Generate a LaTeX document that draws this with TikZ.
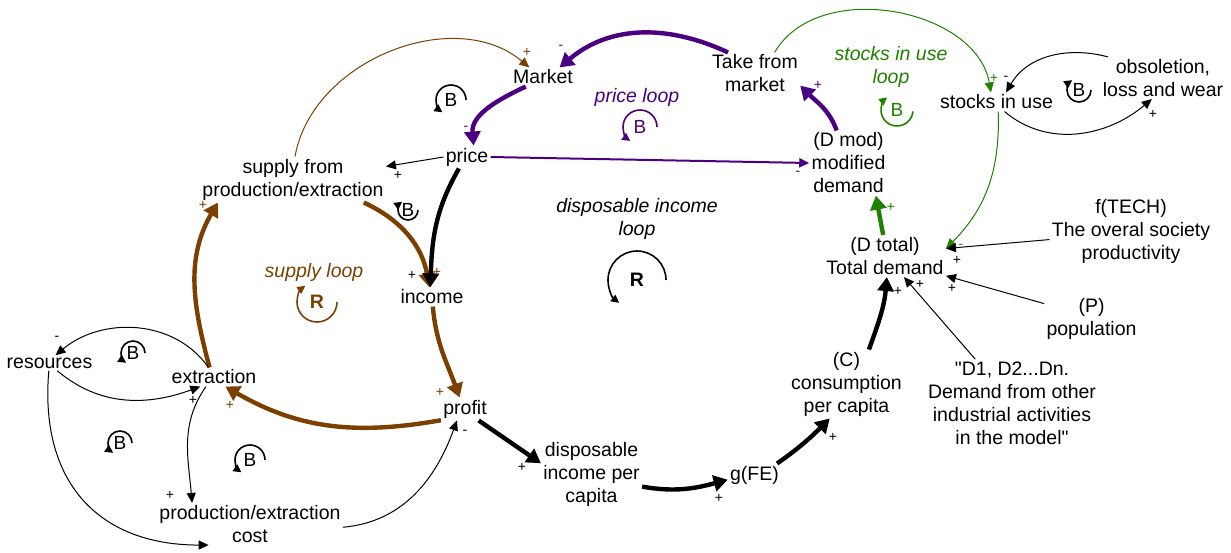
\documentclass[tikz,border=0pt]{standalone}
\usepackage{fontspec}
\setmainfont{Liberation Sans}[Ligatures=TeXOff]
\usetikzlibrary{arrows.meta}
\definecolor{supplybrown}{RGB}{123,63,0}
\definecolor{pricepurple}{RGB}{75,0,130}
\definecolor{stocksgreen}{RGB}{30,130,0}
\tikzset{
  var/.style={align=center, inner sep=1pt, font=\fontsize{9.75}{11.5}\selectfont},
  looptext/.style={align=center, inner sep=1pt, font=\fontsize{9.75}{11.5}\selectfont\itshape},
  looplet/.style={inner sep=0pt, font=\fontsize{9.5}{9.5}\selectfont},
  sign/.style={inner sep=0pt, font=\fontsize{7}{7}\selectfont},
  thin link/.style={-{Triangle[length=5pt,width=4.5pt]}, line width=0.5pt},
  thick link/.style={-{Triangle[length=7pt,width=8pt]}, line width=2.2pt},
  loopmark/.style={-{Triangle[length=4pt,width=4pt]}, line width=0.8pt}
}

\begin{document}
\begin{tikzpicture}[x=0.5pt,y=0.5pt]
      \useasboundingbox (0,0) rectangle (1231,-552);

      % Variables
      \node[var] (market) at (543,-77) {Market};
      \node[var] (take) at (755,-73.5) {Take from\\market};
      \node[var] (price) at (467,-157) {price};
      \node[var] (supply) at (293,-179.5) {supply from\\production/extraction};
      \node[var] (income) at (432,-297) {income};
      \node[var] (profit) at (465,-409) {profit};
      \node[var] (extraction) at (214,-377) {extraction};
      \node[var] (resources) at (49.5,-363) {resources};
      \node[var] (cost) at (250,-524) {production/extraction\\cost};
      \node[var] (disp) at (591.5,-474) {disposable\\income per\\capita};
      \node[var] (gfe) at (754.5,-475) {g(FE)};
      \node[var] (cons) at (846.5,-384) {(C)\\consumption\\per capita};
      \node[var] (dtotal) at (885,-256) {(D total)\\Total demand};
      \node[var] (dmod) at (848.5,-163) {(D mod)\\modified\\demand};
      \node[var] (stocks) at (996.5,-102) {stocks in use};
      \node[var] (obsol) at (1163,-78) {obsoletion,\\loss and wear};
      \node[var] (ftech) at (1131,-231) {f(TECH)\\The overal society\\productivity};
      \node[var] (pop) at (1091.5,-319) {(P)\\population};
      \node[var] (dother) at (1012,-403) {"D1, D2...Dn.\\Demand from other\\industrial activities\\in the model"};

      % Loop names
      \node[looptext, pricepurple] (pricelbl) at (637,-97) {price loop};
      \node[looptext, stocksgreen] (stockslbl) at (891,-66.5) {stocks in use\\loop};
      \node[looptext] (displbl) at (637,-219) {disposable income\\loop};
      \node[looptext, supplybrown] (supplylbl) at (314,-272) {supply loop};

      % Price loop
      \draw[thick link, pricepurple] (take.142) to[out=155,in=40] (market.30);
      \draw[thick link, pricepurple] (market.209) to[out=205,in=95] (price.60);
      \draw[thin link, pricepurple, line width=1pt] (price.east) -- (dmod.west);
      \draw[thick link, pricepurple] (dmod.110) to[out=110,in=-45] (take.-15);

      % Supply loop
      \draw[thick link, supplybrown] (supply.-18) to[out=-25,in=100] (income.105);
      \draw[thick link, supplybrown] (income.-85) to[out=-85,in=110] (profit.115);
      \draw[thick link, supplybrown] (profit.205) to[out=190,in=-30] (extraction.-40);
      \draw[thick link, supplybrown] (extraction.115) to[out=105,in=240] (supply.197);
      \draw[thin link, supplybrown] (supply.85) to[out=80,in=140] (market.145);

      % Price and income
      \draw[thick link] (price.235) to[out=240,in=88] (income.100);
      \draw[thin link] (price.west) -- (supply.8);

      % Resources and cost
      \draw[thin link] (extraction.120) to[out=125,in=40] (resources.52);
      \draw[thin link] (resources.-45) to[out=-40,in=200] (extraction.215);
      \draw[thin link] (extraction.230) to[out=235,in=95] (cost.160);
      \draw[thin link] (cost.-2) to[out=5,in=-110] (profit.235);
      \draw[thin link] (resources.265) to[out=-95,in=180,looseness=1.2] (cost.207);

      % Disposable income loop
      \draw[thick link] (profit.-40) -- (disp.168);
      \draw[thick link] (disp.-14) to[out=-10,in=195] (gfe.190);
      \draw[thick link] (gfe.27) to[out=35,in=225] (cons.244);
      \draw[thick link] (cons.57) to[out=70,in=-95] (dtotal.-85);
      \draw[thick link, stocksgreen] (dtotal.95) -- (dmod.-50);

      % Stocks in use
      \draw[thin link, stocksgreen] (take.47) to[out=60,in=100] (stocks.120);
      \draw[thin link, stocksgreen] (stocks.-80) to[out=-88,in=45] (dtotal.7);
      \draw[thin link] (obsol.159) to[out=165,in=60] (stocks.45);
      \draw[thin link] (stocks.-50) to[out=-40,in=220] (obsol.242);

      % Demand drivers
      \draw[thin link] (ftech.186) -- (dtotal.7);
      \draw[thin link] (pop.162) -- (dtotal.-18);
      \draw[thin link] (dother.130) -- (dtotal.-48);

      % Signs
      \foreach \sx/\sy/\st/\sc [count=\i] in {561/47/-/pricepurple, 527/52/+/supplybrown,
          466/128/-/pricepurple, 798/173/-/pricepurple, 818/85/+/pricepurple,
          398/175/+/black, 412/275/+/black, 437/272/+/supplybrown, 440/392/+/supplybrown,
          230/405/+/supplybrown, 203/205/+/supplybrown, 57/338/-/black, 193/400/+/black,
          170/495/+/black, 465/432/-/black, 522/467/+/black, 719/498/+/black,
          833/437/+/black, 898/291/+/black, 920/284/+/black, 891/207/+/stocksgreen,
          994/78/+/stocksgreen, 1006/78/-/black, 1153/114/+/black,
          961/246/-/stocksgreen, 957/260/+/black, 952/288/+/black}
        \node[sign, text=\sc] (sg\i) at (\sx,-\sy) {\st};

      % Loop markers
      \foreach \bx/\by/\br [count=\i] in {451/100/15, 133/353/12, 120/443/12, 250/460/15} {
        \node[looplet] (bccw\i) at (\bx,-\by) {B};
        \draw[loopmark] (bccw\i.center) ++(0:\br) arc[start angle=0, end angle=235, radius=\br];
      }
      \foreach \bx/\by/\br [count=\i] in {408/210/10, 1079/90/12} {
        \node[looplet] (bcw\i) at (\bx,-\by) {B};
        \draw[loopmark] (bcw\i.center) ++(0:\br) arc[start angle=0, end angle=-235, radius=\br];
      }
      \node[looplet, pricepurple] (bprice) at (640,-127) {B};
      \draw[loopmark, pricepurple] (bprice.center) ++(0:17) arc[start angle=0, end angle=235, radius=17];
      \node[looplet, stocksgreen] (bstocks) at (897,-110) {B};
      \draw[loopmark, stocksgreen] (bstocks.center) ++(-5:16) arc[start angle=-5, end angle=-232, radius=16];
      \node[looplet, font=\fontsize{9.75}{9.75}\selectfont\bfseries] (rdisp) at (637,-280) {R};
      \draw[loopmark] (rdisp.center) ++(0:29) arc[start angle=0, end angle=232, radius=29];
      \node[looplet, supplybrown, font=\fontsize{9.75}{9.75}\selectfont\bfseries] (rsupply) at (317,-302) {R};
      \draw[loopmark, supplybrown] (rsupply.center) ++(0:20) arc[start angle=0, end angle=-234, radius=20];
\end{tikzpicture}
\end{document}
